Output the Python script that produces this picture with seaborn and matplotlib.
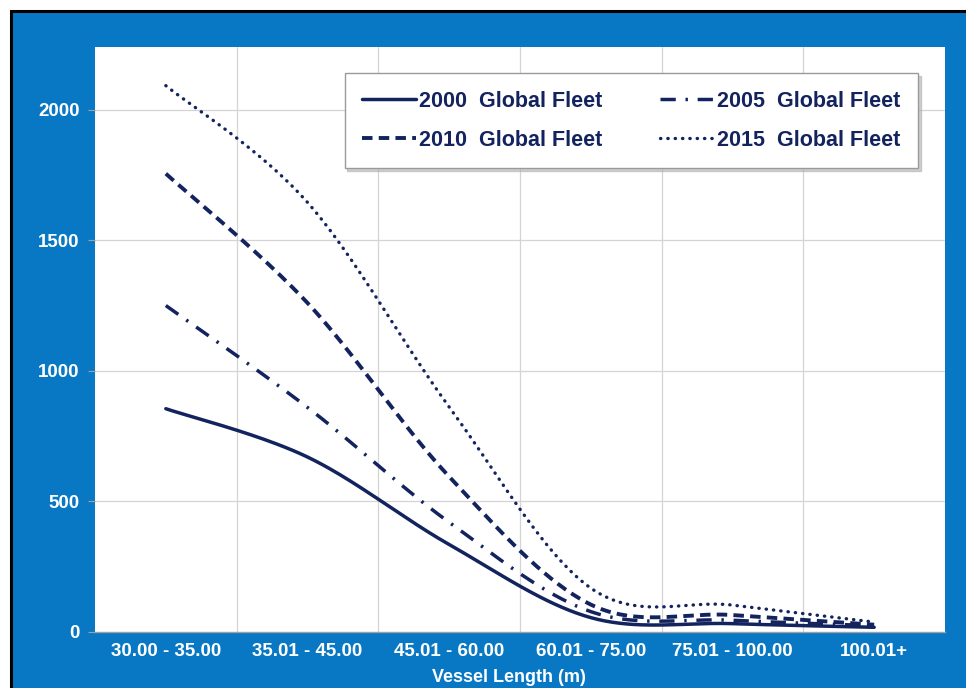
import numpy as np
import pandas as pd
import matplotlib
matplotlib.use("Agg")
import matplotlib.pyplot as plt
from matplotlib.patches import Rectangle
from matplotlib.ticker import FixedLocator, NullFormatter
import seaborn as sns

# Vessel length classes and fleet counts per year
categories = ["30.00 - 35.00", "35.01 - 45.00", "45.01 - 60.00",
              "60.01 - 75.00", "75.01 - 100.00", "100.01+"]
fleet_2000 = [855, 670, 335, 55, 32, 18]
fleet_2005 = [1250, 860, 420, 78, 45, 24]
fleet_2010 = [1755, 1260, 595, 105, 65, 28]
fleet_2015 = [2092, 1645, 862, 168, 103, 38]
series_labels = ["2000  Global Fleet", "2005  Global Fleet",
                 "2010  Global Fleet", "2015  Global Fleet"]
y_ticks = [0, 500, 1000, 1500, 2000]

NAVY = "#13235e"
FRAME_BLUE = "#0878c4"
GRID = "#d4d4d4"


def smooth(xs, ys, n=40):
    """Bezier smoothing through the points (same scheme as spreadsheet 'smoothed lines')."""
    p = np.column_stack([xs, ys]).astype(float)
    ext = np.vstack([p[0], p, p[-1]])
    out = []
    t = np.linspace(0, 1, n)[:, None]
    for i in range(len(p) - 1):
        p0, p1 = ext[i + 1], ext[i + 2]
        c1 = p0 + (ext[i + 2] - ext[i]) / 6.0
        c2 = p1 - (ext[i + 3] - ext[i + 1]) / 6.0
        seg = ((1 - t) ** 3) * p0 + 3 * ((1 - t) ** 2) * t * c1 + 3 * (1 - t) * t ** 2 * c2 + t ** 3 * p1
        out.append(seg if i == 0 else seg[1:])
    s = np.vstack(out)
    return s[:, 0], s[:, 1]


sns.set_theme(style="white")
plt.rcParams["font.family"] = ["Liberation Sans", "DejaVu Sans"]

fig = plt.figure(figsize=(9.66, 6.88), dpi=100)
fig.patch.set_facecolor("white")

# blue frame with black outline
fig.patches.append(Rectangle((11 / 966, -0.05), 1.0, 1 - 11 / 688 + 0.05,
                             transform=fig.transFigure, facecolor=FRAME_BLUE,
                             edgecolor="black", linewidth=2.2, zorder=-10))

ax = fig.add_axes([95 / 966, 56 / 688, 850 / 966, 585 / 688])
ax.set_facecolor("white")

x_pos = np.arange(len(categories))
styles = [
    dict(linestyle="-", lw=2.5),
    dict(linestyle=(0, (4.4, 2.8, 0.7, 2.8)), lw=2.5),
    dict(linestyle=(0, (2.7, 1.6)), lw=2.8),
    dict(linestyle=(0, (0.1, 2.1)), lw=2.4),
]
handles = []
for vals, lab, st in zip([fleet_2000, fleet_2005, fleet_2010, fleet_2015], series_labels, styles):
    sx, sy = smooth(x_pos, vals)
    df = pd.DataFrame({"x": sx, "y": sy})
    sns.lineplot(data=df, x="x", y="y", ax=ax, color=NAVY, sort=False,
                 estimator=None, linewidth=st["lw"], label=lab)
    line = ax.get_lines()[-1]
    line.set_linestyle(st["linestyle"])
    if st is styles[3]:
        line.set_dash_capstyle("round")
    else:
        line.set_dash_capstyle("butt")
    handles.append(line)

ax.set_xlim(-0.5, len(categories) - 0.5)
ax.set_ylim(0, 2240)
ax.set_xticks(x_pos)
ax.set_xticklabels(categories)
ax.xaxis.set_minor_locator(FixedLocator(np.arange(0.5, len(categories) - 0.5, 1.0)))
ax.xaxis.set_minor_formatter(NullFormatter())
ax.set_yticks(y_ticks)

ax.grid(False)
for y in y_ticks[1:]:
    ax.axhline(y, color=GRID, lw=0.9, zorder=0)
for xv in np.arange(0.5, len(categories) - 0.5, 1.0):
    ax.axvline(xv, color=GRID, lw=0.9, zorder=0)

for side in ["top", "right", "left"]:
    ax.spines[side].set_visible(False)
ax.spines["bottom"].set_color("#a0a0a0")
ax.spines["bottom"].set_linewidth(1.0)

ax.tick_params(axis="x", which="major", length=0, pad=8, labelsize=13.5,
               labelcolor="white")
ax.tick_params(axis="x", which="minor", length=5, color="#a0a0a0", direction="out")
ax.tick_params(axis="y", length=5, color="#a0a0a0", width=0.8, pad=6,
               labelsize=13.5, labelcolor="white", left=True)
for t in ax.get_xticklabels() + ax.get_yticklabels():
    t.set_fontweight("bold")

ax.set_xlabel("Vessel Length (m)", color="white", fontsize=13,
              fontweight="bold", va="center")
ax.xaxis.set_label_coords(0.487, -0.077)
ax.set_ylabel("")

leg_handles = [handles[0], handles[2], handles[1], handles[3]]
leg_labels = [series_labels[0], series_labels[2], series_labels[1], series_labels[3]]
leg = ax.legend(leg_handles, leg_labels, ncol=2, loc="upper right",
                bbox_to_anchor=(0.968, 0.955), borderaxespad=0.0,
                frameon=True, fancybox=False,
                shadow={"color": "#b0b0b0", "alpha": 0.6, "ox": 2, "oy": -2},
                prop={"weight": "bold", "size": 15.5}, handlelength=2.5,
                handletextpad=0.15, columnspacing=2.7, labelspacing=0.85,
                borderpad=0.8, labelcolor=NAVY)
leg.get_frame().set_edgecolor("#9a9a9a")
leg.get_frame().set_linewidth(1.0)
leg.set_zorder(5)

fig.savefig("out.png", dpi=100, facecolor=fig.get_facecolor())
